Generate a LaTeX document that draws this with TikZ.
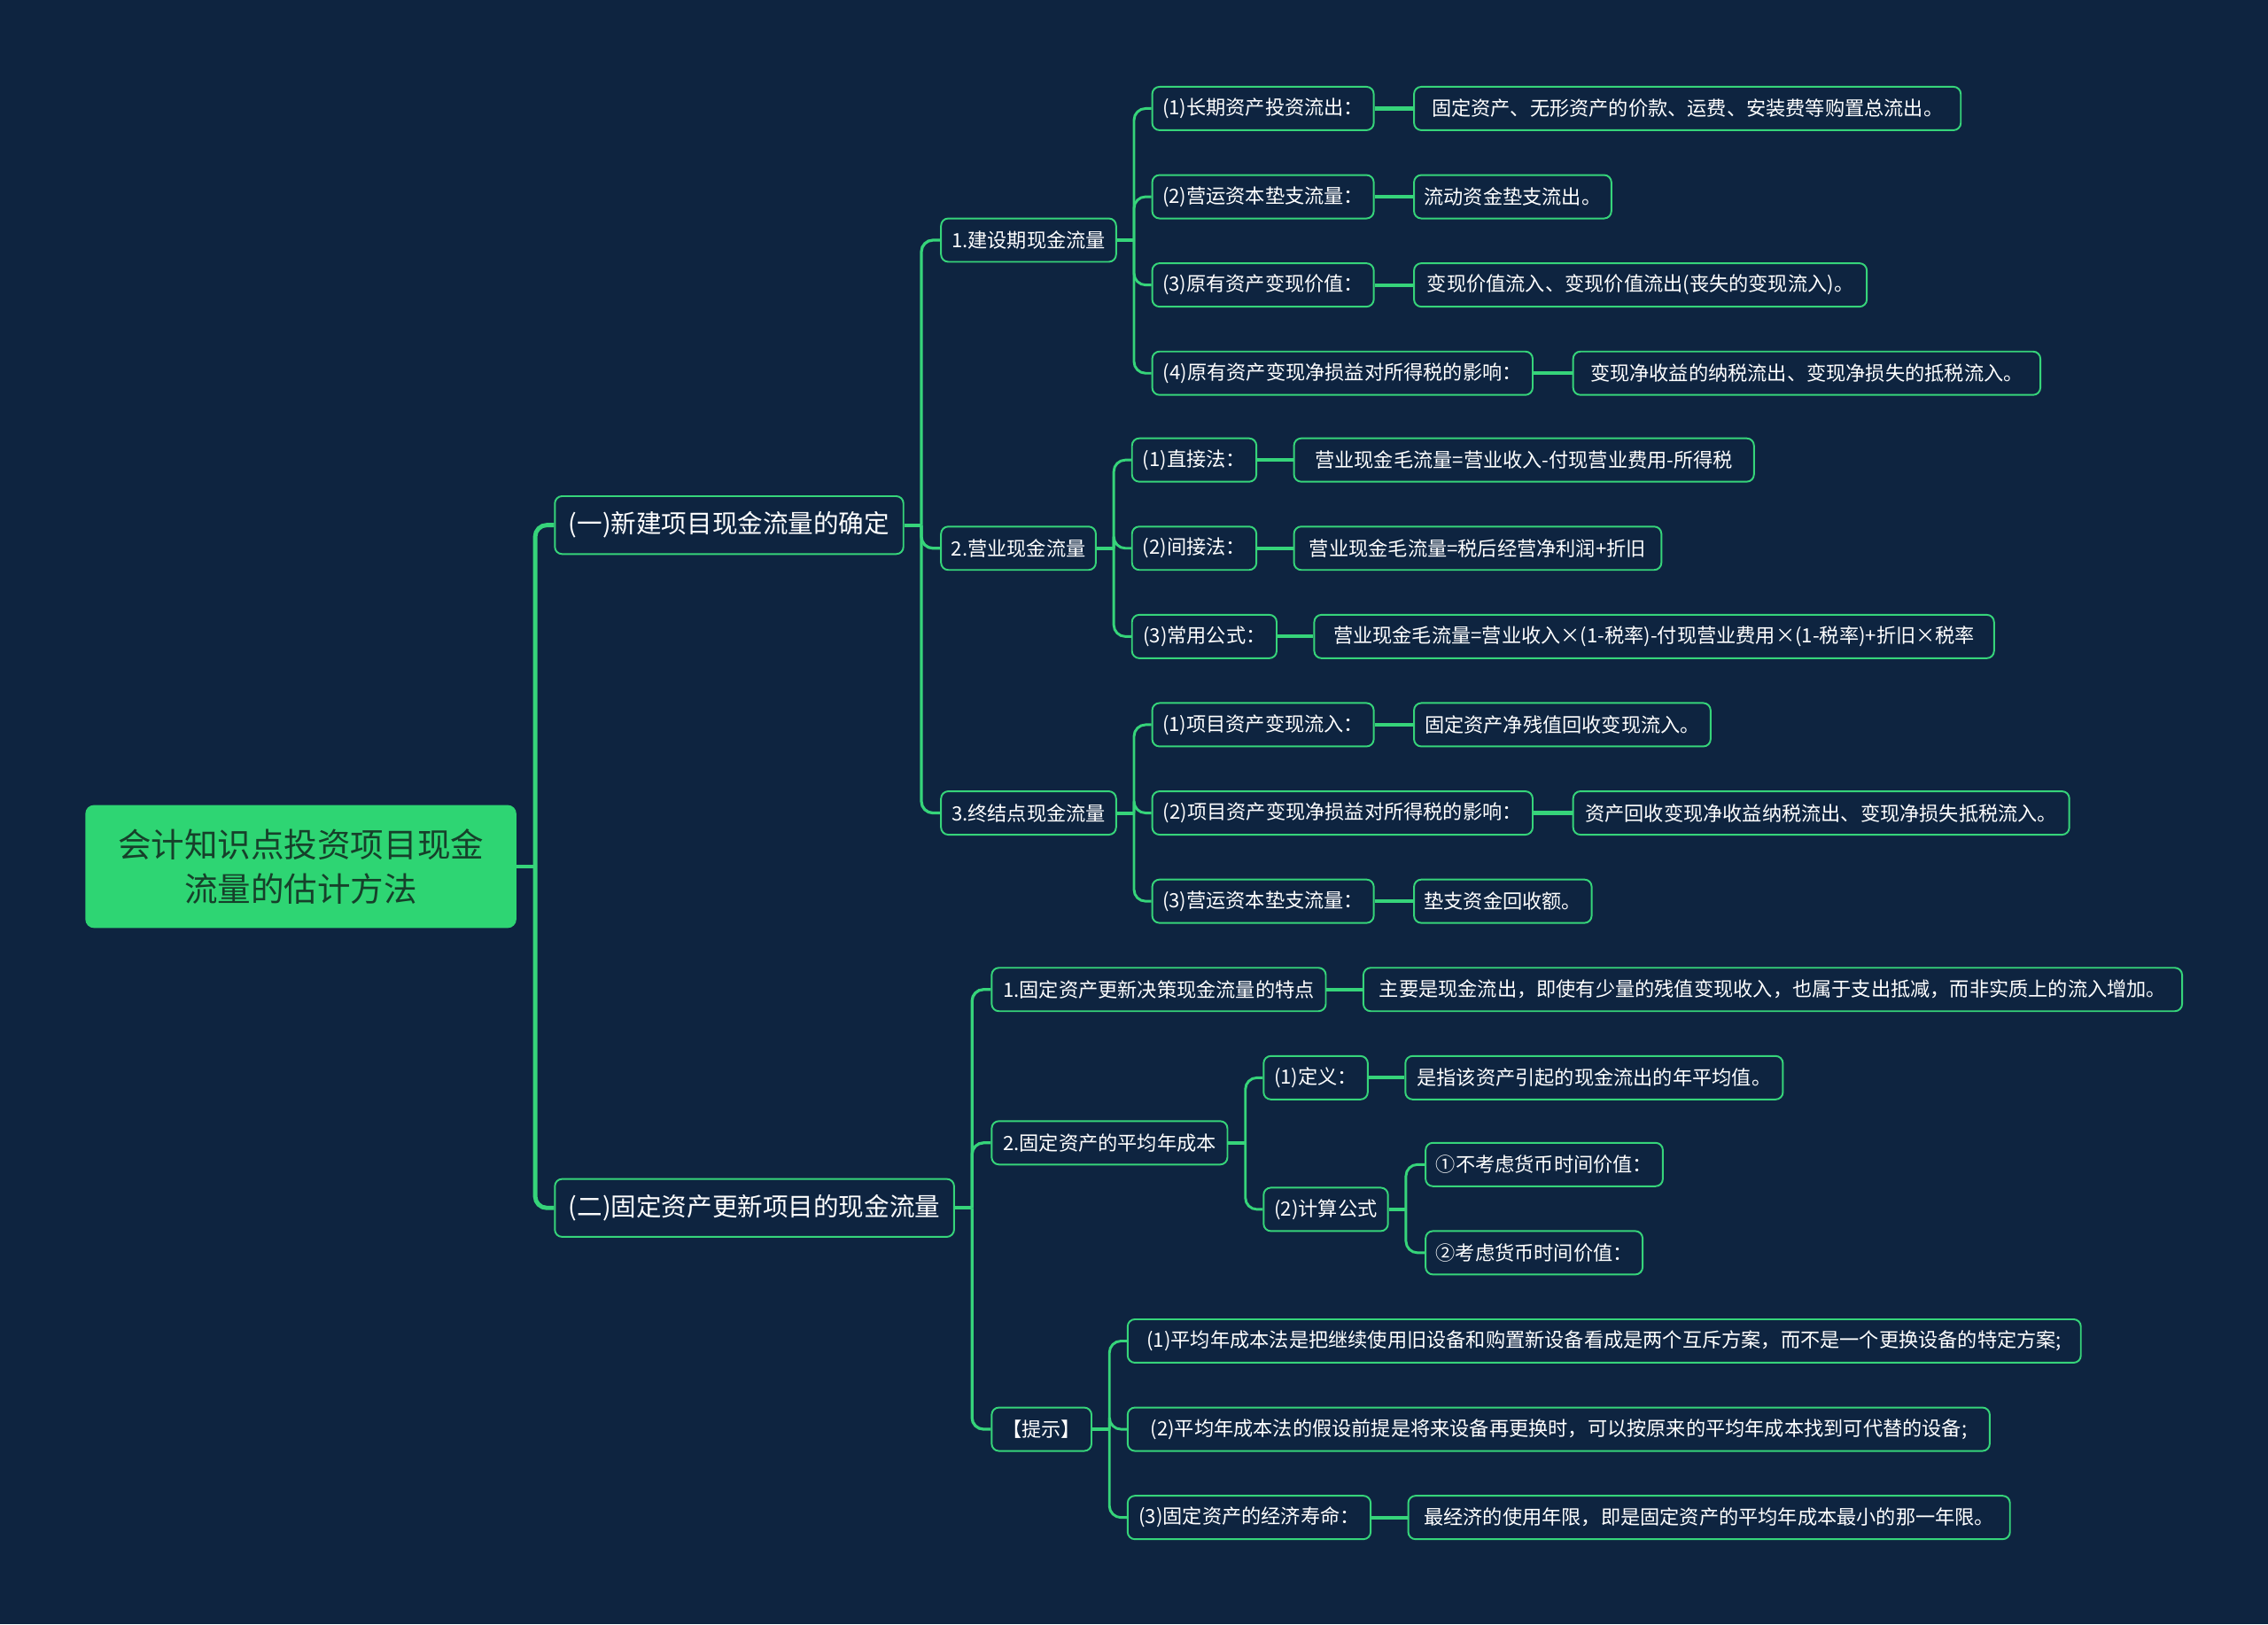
\documentclass[tikz,border=0pt]{standalone}
\usepackage{fontspec}
\setmainfont{Noto Sans CJK SC}
\definecolor{bg}{HTML}{0E2440}
\definecolor{gr}{HTML}{36D47A}
\definecolor{rootfill}{HTML}{2ED573}
\definecolor{roottext}{HTML}{16402A}
\begin{document}
\begin{tikzpicture}[x=1pt,y=-1pt,
  box/.style={draw=gr, line width=1.2pt, fill=bg, rounded corners=5pt, text=white,
    font=\fontsize{13.6}{16}\selectfont, minimum height=30pt, inner xsep=7pt, anchor=west},
  big/.style={box, minimum height=40pt, font=\fontsize{17.5}{20}\selectfont},
  edge/.style={draw=gr, line width=2pt, rounded corners=8pt},
  stub/.style={draw=gr, line width=2.6pt}
]
\fill[bg] (0,0) rectangle (1568,1123);
\useasboundingbox (0,0) rectangle (1568,1123);

% trunk coordinates
\coordinate (T0) at (370,0);
\coordinate (Ta) at (637,0);
\coordinate (Ta1) at (784,0);
\coordinate (Ta2) at (770,0);
\coordinate (Ta3) at (784,0);
\coordinate (Tb) at (672,0);
\coordinate (Tb2) at (861,0);
\coordinate (Tb22) at (972,0);
\coordinate (Tb3) at (767,0);

% root
\node[fill=rootfill, rounded corners=6pt, minimum width=298pt, minimum height=85pt,
  text=roottext, align=center, font=\fontsize{23}{31}\selectfont] (root) at (208,599)
  {会计知识点投资项目现金\\流量的估计方法};

% level 1
\node[big, minimum width=241pt] (A) at (383,363) {(一)新建项目现金流量的确定};
\node[big, minimum width=276pt] (B) at (383,835) {(二)固定资产更新项目的现金流量};

% level 2 under A
\node[box, minimum width=121pt] (A1) at (650,166) {1.建设期现金流量};
\node[box, minimum width=107pt] (A2) at (650,379) {2.营业现金流量};
\node[box, minimum width=121pt] (A3) at (650,562) {3.终结点现金流量};

% under A1
\node[box, minimum width=153pt] (a1) at (796,75) {(1)长期资产投资流出：};
\node[box, minimum width=378pt] (a1v) at (977,75) {固定资产、无形资产的价款、运费、安装费等购置总流出。};
\node[box, minimum width=153pt] (a2) at (796,136) {(2)营运资本垫支流量：};
\node[box, minimum width=136pt] (a2v) at (977,136) {流动资金垫支流出。};
\node[box, minimum width=153pt] (a3) at (796,197) {(3)原有资产变现价值：};
\node[box, minimum width=313pt] (a3v) at (977,197) {变现价值流入、变现价值流出(丧失的变现流入)。};
\node[box, minimum width=263pt] (a4) at (796,258) {(4)原有资产变现净损益对所得税的影响：};
\node[box, minimum width=323pt] (a4v) at (1087,258) {变现净收益的纳税流出、变现净损失的抵税流入。};

% under A2
\node[box, minimum width=86pt] (b1) at (782,318) {(1)直接法：};
\node[box, minimum width=318pt] (b1v) at (894,318) {营业现金毛流量=营业收入-付现营业费用-所得税};
\node[box, minimum width=86pt] (b2) at (782,379) {(2)间接法：};
\node[box, minimum width=254pt] (b2v) at (894,379) {营业现金毛流量=税后经营净利润+折旧};
\node[box, minimum width=100pt] (b3) at (782,440) {(3)常用公式：};
\node[box, minimum width=470pt] (b3v) at (908,440) {营业现金毛流量=营业收入×(1-税率)-付现营业费用×(1-税率)+折旧×税率};

% under A3
\node[box, minimum width=153pt] (c1) at (796,501) {(1)项目资产变现流入：};
\node[box, minimum width=205pt] (c1v) at (977,501) {固定资产净残值回收变现流入。};
\node[box, minimum width=263pt] (c2) at (796,562) {(2)项目资产变现净损益对所得税的影响：};
\node[box, minimum width=343pt] (c2v) at (1087,562) {资产回收变现净收益纳税流出、变现净损失抵税流入。};
\node[box, minimum width=153pt] (c3) at (796,623) {(3)营运资本垫支流量：};
\node[box, minimum width=122pt] (c3v) at (977,623) {垫支资金回收额。};

% level 2 under B
\node[box, minimum width=231pt] (B1) at (685,684) {1.固定资产更新决策现金流量的特点};
\node[box, minimum width=566pt] (B1v) at (942,684) {主要是现金流出，即使有少量的残值变现收入，也属于支出抵减，而非实质上的流入增加。};
\node[box, minimum width=163pt] (B2) at (685,790) {2.固定资产的平均年成本};
\node[box, minimum width=69pt] (B3) at (685,988) {【提示】};

\node[box, minimum width=72pt] (d1) at (873,745) {(1)定义：};
\node[box, minimum width=261pt] (d1v) at (971,745) {是指该资产引起的现金流出的年平均值。};
\node[box, minimum width=86pt] (d2) at (873,836) {(2)计算公式};
\node[box, minimum width=164pt] (e1) at (985,805) {①不考虑货币时间价值：};
\node[box, minimum width=150pt] (e2) at (985,866) {②考虑货币时间价值：};

\node[box, minimum width=659pt] (t1) at (779,927) {(1)平均年成本法是把继续使用旧设备和购置新设备看成是两个互斥方案，而不是一个更换设备的特定方案;};
\node[box, minimum width=596pt] (t2) at (779,988) {(2)平均年成本法的假设前提是将来设备再更换时，可以按原来的平均年成本找到可代替的设备;};
\node[box, minimum width=168pt] (t3) at (779,1049) {(3)固定资产的经济寿命：};
\node[box, minimum width=416pt] (t3v) at (973,1049) {最经济的使用年限，即是固定资产的平均年成本最小的那一年限。};

% connectors
\newcommand\mystub[3]{\draw[stub,line width=#3] (#1.east) -- (#1.east -| #2);}
\newcommand\mybr[4]{\draw[edge,line width=#4] (#1.east -| #3) |- (#2.west);}
\newcommand\mystr[2]{\draw[stub] (#1.east) -- (#2.west);}

\begin{scope}[on background layer/.style={}]
\mystub{root}{T0}{3pt}
\mybr{root}{A}{T0}{3pt}
\mybr{root}{B}{T0}{3pt}

\mystub{A}{Ta}{2.6pt}
\mybr{A}{A1}{Ta}{2pt}
\mybr{A}{A2}{Ta}{2pt}
\mybr{A}{A3}{Ta}{2pt}

\mystub{A1}{Ta1}{2.4pt}
\mybr{A1}{a1}{Ta1}{1.8pt}
\mybr{A1}{a2}{Ta1}{1.8pt}
\mybr{A1}{a3}{Ta1}{1.8pt}
\mybr{A1}{a4}{Ta1}{1.8pt}
\mystr{a1}{a1v}
\mystr{a2}{a2v}
\mystr{a3}{a3v}
\mystr{a4}{a4v}

\mystub{A2}{Ta2}{2.4pt}
\mybr{A2}{b1}{Ta2}{1.8pt}
\mybr{A2}{b2}{Ta2}{1.8pt}
\mybr{A2}{b3}{Ta2}{1.8pt}
\mystr{b1}{b1v}
\mystr{b2}{b2v}
\mystr{b3}{b3v}

\mystub{A3}{Ta3}{2.4pt}
\mybr{A3}{c1}{Ta3}{1.8pt}
\mybr{A3}{c2}{Ta3}{1.8pt}
\mybr{A3}{c3}{Ta3}{1.8pt}
\mystr{c1}{c1v}
\mystr{c2}{c2v}
\mystr{c3}{c3v}

\mystub{B}{Tb}{2.6pt}
\mybr{B}{B1}{Tb}{2pt}
\mybr{B}{B2}{Tb}{2pt}
\mybr{B}{B3}{Tb}{2pt}
\mystr{B1}{B1v}

\mystub{B2}{Tb2}{2.4pt}
\mybr{B2}{d1}{Tb2}{1.8pt}
\mybr{B2}{d2}{Tb2}{1.8pt}
\mystr{d1}{d1v}
\mystub{d2}{Tb22}{2.4pt}
\mybr{d2}{e1}{Tb22}{1.8pt}
\mybr{d2}{e2}{Tb22}{1.8pt}

\mystub{B3}{Tb3}{2.4pt}
\mybr{B3}{t1}{Tb3}{1.8pt}
\mybr{B3}{t2}{Tb3}{1.8pt}
\mybr{B3}{t3}{Tb3}{1.8pt}
\mystr{t3}{t3v}
\end{scope}
\end{tikzpicture}
\end{document}
